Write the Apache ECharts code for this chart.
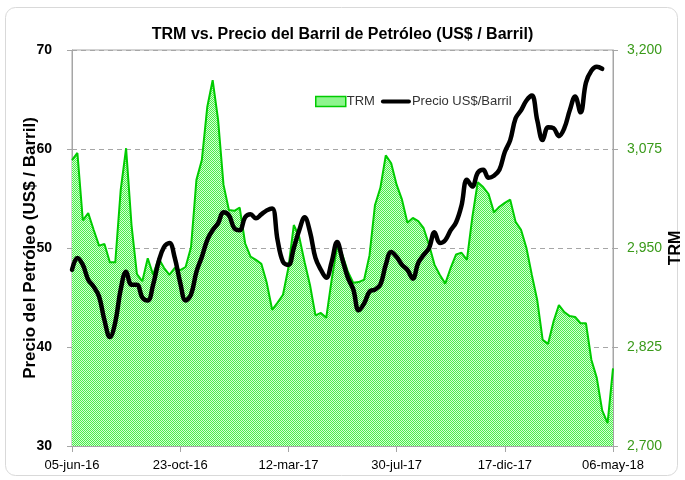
<!DOCTYPE html>
<html>
<head>
<meta charset="utf-8">
<script src="https://cdn.jsdelivr.net/npm/echarts@6/dist/echarts.min.js"></script>
<style>
  html, body { margin: 0; padding: 0; background: #fff; }
  #main { width: 685px; height: 480px; }
</style>
</head>
<body>
<div id="main"></div>
<script>
// etiquetas semanales desde 05-jun-16
var meses = ['ene', 'feb', 'mar', 'abr', 'may', 'jun', 'jul', 'ago', 'sep', 'oct', 'nov', 'dic'];
var startDate = [2016, 5, 5];
var numWeeks = 101;

// TRM (eje derecho)
var trmValues = [
  3061, 3070, 2985, 2994, 2973, 2953, 2955, 2932, 2932, 3023,
  3076, 2979, 2917, 2908, 2937, 2916, 2937, 2925, 2916, 2925,
  2922, 2926, 2951, 3036, 3061, 3128, 3162, 3112, 3030, 2998,
  2997, 3001, 2956, 2939, 2935, 2930, 2906, 2872, 2881, 2891,
  2925, 2979, 2964, 2932, 2903, 2865, 2868, 2862, 2910, 2951,
  2941, 2920, 2906, 2907, 2910, 2941, 3004, 3026, 3067, 3057,
  3030, 3011, 2982, 2988, 2984, 2975, 2954, 2929, 2916, 2905,
  2925, 2942, 2944, 2935, 2989, 3033, 3027, 3018, 2995, 3002,
  3007, 3011, 2983, 2973, 2950, 2916, 2884, 2834, 2829, 2857,
  2878, 2869, 2864, 2863, 2855, 2855, 2809, 2786, 2745, 2729,
  2798
];

// Precio del barril (eje izquierdo)
var oilValues = [
  47.8, 49.0, 48.3, 46.8, 46.1, 45.1, 42.7, 41.0, 42.5, 45.8,
  47.6, 46.3, 46.3, 45.0, 44.7, 46.3, 48.6, 50.1, 50.5, 49.0,
  46.5, 44.7, 45.3, 47.6, 49.1, 50.8, 51.8, 52.5, 53.6, 53.3,
  52.0, 51.8, 53.1, 53.4, 53.0, 53.4, 53.8, 54.0, 50.8, 48.6,
  48.3, 50.0, 51.8, 53.1, 51.6, 49.0, 47.8, 47.0, 48.6, 50.6,
  48.8, 47.0, 45.8, 43.7, 44.4, 45.6, 45.8, 46.3, 48.3, 49.6,
  49.1, 48.3, 47.8, 46.9, 48.5, 49.3, 50.0, 51.6, 50.5, 50.8,
  51.8, 52.6, 54.3, 56.9, 56.2, 57.6, 57.9, 57.1, 57.3, 57.9,
  59.7, 60.9, 63.1, 63.9, 64.9, 65.4, 62.9, 60.9, 62.2, 62.1,
  61.3, 62.1, 63.9, 65.3, 63.7, 66.7, 67.9, 68.3, 68.1, null,
  null
];

var leftTicks = [30, 40, 50, 60, 70];
var rightTicks = [2700, 2825, 2950, 3075, 3200];

var categories = [];
for (var i = 0; i < numWeeks; i++) {
  var d = new Date(startDate[0], startDate[1], startDate[2] + i * 7);
  var dd = ('0' + d.getDate()).slice(-2);
  categories.push(dd + '-' + meses[d.getMonth()] + '-' + String(d.getFullYear()).slice(2));
}

// relleno punteado verde
function makePattern() {
  var c = document.createElement('canvas');
  c.width = 2; c.height = 2;
  var ctx = c.getContext('2d');
  ctx.fillStyle = '#d2ffd2';
  ctx.fillRect(0, 0, 2, 2);
  ctx.fillStyle = '#4aec4a';
  ctx.fillRect(0, 0, 1, 1);
  ctx.fillRect(1, 1, 1, 1);
  return { image: c, repeat: 'repeat' };
}
var greenFill = makePattern();

var font = '"Liberation Sans Narrow", "Liberation Sans", Arial, sans-serif';
var chart = echarts.init(document.getElementById('main'));

var option = {
  backgroundColor: '#fff',
  animation: false,
  textStyle: { fontFamily: font },
  title: {
    text: 'TRM vs. Precio del Barril de Petróleo (US$ / Barril)',
    left: 'center',
    top: 22,
    textStyle: { fontFamily: font, fontSize: 16, fontWeight: 'bold', color: '#000' }
  },
  graphic: [{
    type: 'rect',
    shape: { x: 5.5, y: 7.5, width: 672, height: 468, r: 10 },
    style: { fill: 'none', stroke: '#d9d9d9', lineWidth: 1 },
    silent: true
  }],
  legend: {
    left: 310,
    top: 90,
    itemWidth: 30,
    itemHeight: 10,
    itemGap: 6,
    textStyle: { fontFamily: font, fontSize: 13, color: '#333', padding: [0, 0, 0, -4] },
    data: [
      { name: 'TRM', icon: 'rect', itemStyle: { color: greenFill, borderColor: '#00cc00', borderWidth: 1.5 } },
      { name: 'Precio US$/Barril', icon: 'path://M2,0 H28 A2,2 0 0 1 28,4 H2 A2,2 0 0 1 2,0 Z', itemStyle: { color: '#000' } }
    ]
  },
  grid: {
    left: 72, right: 72, top: 50, bottom: 34,
    outerBoundsMode: 'none',
    show: true, borderColor: '#a6a6a6', borderWidth: 1
  },
  xAxis: {
    type: 'category',
    data: categories,
    boundaryGap: false,
    axisLine: { lineStyle: { color: '#a6a6a6' } },
    axisTick: { interval: 19, length: 6, lineStyle: { color: '#a6a6a6' } },
    axisLabel: {
      interval: 19, margin: 13, color: '#000', fontSize: 13, fontFamily: font
    },
    splitLine: { show: false }
  },
  yAxis: [{
    type: 'value',
    min: leftTicks[0], max: leftTicks[leftTicks.length - 1], interval: 10,
    name: 'Precio del Petróleo (US$ / Barril)',
    nameLocation: 'middle',
    nameGap: 33,
    nameMoveOverlap: false,
    nameTextStyle: { fontFamily: font, fontSize: 17, fontWeight: 'bold', color: '#000' },
    axisLine: { show: true, lineStyle: { color: '#a6a6a6' } },
    axisTick: { show: true, length: 5, lineStyle: { color: '#a6a6a6' } },
    axisLabel: { margin: 20, color: '#000', fontSize: 14, fontWeight: 'bold', fontFamily: font },
    splitLine: { show: true, lineStyle: { color: '#a6a6a6', type: [5, 4] } }
  }, {
    type: 'value',
    min: rightTicks[0], max: rightTicks[rightTicks.length - 1], interval: 125,
    name: 'TRM',
    nameLocation: 'middle',
    nameRotate: 90,
    nameGap: 55,
    nameMoveOverlap: false,
    nameTextStyle: { fontFamily: font, fontSize: 16, fontWeight: 'bold', color: '#000' },
    axisLine: { show: true, lineStyle: { color: '#a6a6a6' } },
    axisTick: { show: true, length: 5, lineStyle: { color: '#a6a6a6' } },
    axisLabel: {
      margin: 14, color: '#3a9a1a', fontSize: 14, fontFamily: font,
      formatter: function (v) { return v.toLocaleString('en-US'); }
    },
    splitLine: { show: false }
  }],
  series: [{
    name: 'TRM',
    type: 'line',
    yAxisIndex: 1,
    data: trmValues,
    symbol: 'none',
    lineStyle: { color: '#00cc00', width: 2 },
    itemStyle: { color: '#00cc00' },
    areaStyle: { color: greenFill, opacity: 1, origin: 'start' },
    z: 2
  }, {
    name: 'Precio US$/Barril',
    type: 'line',
    yAxisIndex: 0,
    data: oilValues,
    symbol: 'none',
    smooth: 0.4,
    lineStyle: { color: '#000', width: 4.5, cap: 'round', join: 'round' },
    itemStyle: { color: '#000' },
    z: 3
  }]
};

chart.setOption(option);
</script>
</body>
</html>
